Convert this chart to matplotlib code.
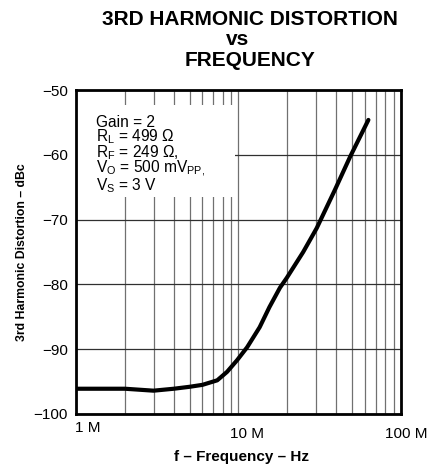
import matplotlib
matplotlib.use("Agg")
import matplotlib.pyplot as plt
from matplotlib.patches import Rectangle
from matplotlib.ticker import FixedLocator, NullFormatter
import matplotlib.transforms as mtransforms

plt.rcParams["font.family"] = ["Liberation Sans", "DejaVu Sans"]
plt.rcParams["mathtext.fontset"] = "custom"
plt.rcParams["mathtext.rm"] = "Liberation Sans"
plt.rcParams["mathtext.it"] = "Liberation Sans"

# curve (Hz, dBc)
freq_hz = [1.0e6, 1.5e6, 2.0e6, 3.0e6, 4.0e6, 5.0e6, 6.0e6, 7.4e6, 8.5e6, 9.8e6,
           11.3e6, 13.5e6, 15.5e6, 18.0e6, 19.8e6, 25.0e6, 30.3e6, 39.2e6, 48.6e6, 63.0e6]
hd3_dbc = [-96.1, -96.1, -96.1, -96.4, -96.1, -95.8, -95.5, -94.8, -93.5, -91.7,
           -89.7, -86.6, -83.5, -80.5, -79.0, -75.0, -71.3, -65.4, -60.3, -54.6]

x_ticks = [1e6, 1e7, 1e8]
x_tick_labels = ["1 M", "10 M", "100 M"]
y_ticks = [-100, -90, -80, -70, -60, -50]
conditions = ["Gain = 2",
              "R$_\\mathrm{L}$ = 499 \u03a9",
              "R$_\\mathrm{F}$ = 249 \u03a9,",
              "V$_\\mathrm{O}$ = 500 mV$_\\mathrm{PP,}$",
              "V$_\\mathrm{S}$ = 3 V"]
title_lines = ["3RD HARMONIC DISTORTION", "vs", "FREQUENCY"]

fig = plt.figure(figsize=(4.38, 4.67), dpi=100)
ax = fig.add_axes([0.1735, 0.1135, 0.742, 0.6935])

ax.set_xscale("log")
ax.set_xlim(1e6, 1e8)
ax.set_ylim(-100, -50)

minor = [m * d for d in (1e6, 1e7) for m in range(2, 10)]
ax.xaxis.set_major_locator(FixedLocator(x_ticks))
ax.xaxis.set_minor_locator(FixedLocator(minor))
ax.xaxis.set_minor_formatter(NullFormatter())
ax.set_xticklabels([])
ax.set_yticks(y_ticks)
ax.set_yticklabels([f"\u2212{abs(v)}" for v in y_ticks])

ax.grid(True, which="major", axis="y", color="#303030", linewidth=0.9)
ax.grid(True, which="both", axis="x", color="#707070", linewidth=0.9)
ax.tick_params(axis="both", which="both", length=0, labelsize=11)
ax.tick_params(axis="y", pad=6)
for s in ax.spines.values():
    s.set_linewidth(2)

# x tick labels sit slightly to the right of their ticks, "1 M" a bit higher
trans = mtransforms.blended_transform_factory(ax.transData, ax.transAxes)
label_offsets = [(12, -14), (9, -20), (5, -20)]
for xv, lab, (dx, dy) in zip(x_ticks, x_tick_labels, label_offsets):
    ax.annotate(lab, xy=(xv, 0), xycoords=trans, xytext=(dx, dy),
                textcoords="offset pixels", ha="center", va="center",
                fontsize=11, annotation_clip=False)

ax.plot(freq_hz, hd3_dbc, color="black", linewidth=3, solid_capstyle="round", zorder=3)

# white box behind the conditions text
ax.add_patch(Rectangle((0.0, 0.67), 0.49, 0.285, transform=ax.transAxes,
                       facecolor="white", edgecolor="none", zorder=2))
ax.text(0.0615, (414 - 115) / 324, "\n".join(conditions), transform=ax.transAxes,
        ha="left", va="top", fontsize=11.2, linespacing=0.8, zorder=4)

ax.set_xlabel("f \u2013 Frequency \u2013 Hz", fontsize=11, fontweight="bold")
ax.xaxis.set_label_coords(0.508, -0.111)
ax.set_ylabel("3rd Harmonic Distortion \u2013 dBc", fontsize=8.8, fontweight="bold")
ax.yaxis.set_label_coords(-0.148, 0.5)

title_pos = [(0.570, 25), (0.543, 45), (0.571, 66)]
for line, (tx, base) in zip(title_lines, title_pos):
    fig.text(tx, 1 - base / 467, line, ha="center", va="baseline",
             fontsize=15, fontweight="bold")

fig.savefig("out.png", dpi=100)
